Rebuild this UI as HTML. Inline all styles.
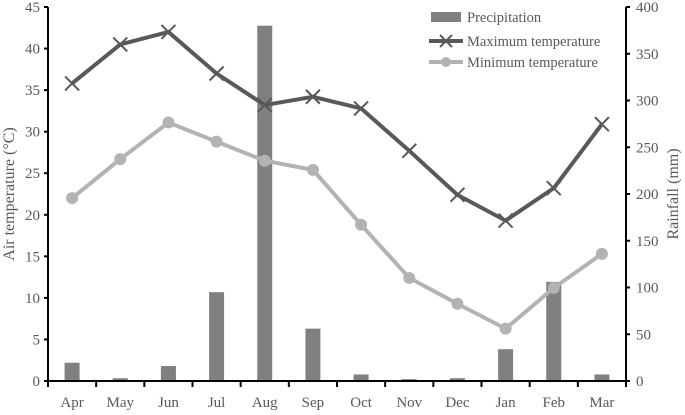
<!DOCTYPE html>
<html><head><meta charset="utf-8"><style>
body{margin:0;background:#fff}
text{font-family:"Liberation Serif",serif;fill:#595959}
</style></head><body>
<svg id="chart" width="685" height="410" xmlns="http://www.w3.org/2000/svg"></svg>
<script>
const months=["Apr","May","Jun","Jul","Aug","Sep","Oct","Nov","Dec","Jan","Feb","Mar"];
const maxTemp=[35.8,40.5,42,37,33.2,34.2,32.8,27.7,22.4,19.3,23.2,30.9];
const minTemp=[22,26.7,31.1,28.8,26.5,25.4,18.8,12.4,9.3,6.3,11.2,15.3];
const rainfall=[19.5,3,16,95,380,56,7,2,3,34,106,7];
const leftTicks=[0,5,10,15,20,25,30,35,40,45];
const rightTicks=[0,50,100,150,200,250,300,350,400];
const svg=document.getElementById('chart');
const NS='http://www.w3.org/2000/svg';
const L=48,R=626,T=7,B=381,bw=(R-L)/12;
const x=i=>L+bw*(i+0.5);
const yL=v=>B-(v/45)*(B-T);
const yR=v=>B-(v/400)*(B-T);
function mk(tag,a,parent){const e=document.createElementNS(NS,tag);for(const k in a)e.setAttribute(k,a[k]);(parent||svg).appendChild(e);return e;}
// bars
const gb=mk('g',{});


rainfall.forEach((v,i)=>{const r=mk('rect',{x:x(i)-7.5,y:yR(v),width:15,height:B-yR(v),fill:'#808080'},gb);

});
// lines
function series(data,color,name,marker){
 const g=mk('g',{});
 
 
 mk('polyline',{points:data.map((v,i)=>x(i)+','+yL(v)).join(' '),fill:'none',stroke:color,'stroke-width':4},g);
 data.forEach((v,i)=>{let m;
  if(marker==='x'){const cx=x(i),cy=yL(v);m=mk('path',{d:`M${cx-7},${cy-7}L${cx+7},${cy+7}M${cx-7},${cy+7}L${cx+7},${cy-7}`,stroke:color,'stroke-width':2},g);}
  else m=mk('circle',{cx:x(i),cy:yL(v),r:6,fill:color},g);
  
  });
}
series(minTemp,'#b3b3b3','min-temperature-line','o');
series(maxTemp,'#595959','max-temperature-line','x');
// axes
const ax=mk('g',{stroke:'#000','stroke-width':2});


mk('line',{x1:L,y1:T,x2:L,y2:B+1},ax);
mk('line',{x1:R,y1:T,x2:R,y2:B+1},ax);
mk('line',{x1:L,y1:B,x2:R,y2:B},ax);
for(let i=0;i<=12;i++)mk('line',{x1:L+bw*i,y1:B,x2:L+bw*i,y2:B+6},ax);
leftTicks.forEach(v=>{mk('line',{x1:L-4,y1:yL(v),x2:L,y2:yL(v)},ax);
 const t=mk('text',{x:L-8,y:yL(v)+5,'text-anchor':'end','font-size':15});t.textContent=v;
 });
rightTicks.forEach(v=>{mk('line',{x1:R,y1:yR(v),x2:R+4,y2:yR(v)},ax);
 const t=mk('text',{x:R+10,y:yR(v)+5,'font-size':15});t.textContent=v;
 });
months.forEach((m,i)=>{const t=mk('text',{x:x(i),y:B+26,'text-anchor':'middle','font-size':15});t.textContent=m;
 });
let t=mk('text',{transform:'translate(14,194) rotate(-90)','text-anchor':'middle','font-size':16});t.textContent='Air temperature (°C)';

t=mk('text',{transform:'translate(678,194) rotate(-90)','text-anchor':'middle','font-size':16});t.textContent='Rainfall (mm)';

// legend
const lg=mk('g',{});


mk('rect',{x:431,y:12,width:30,height:10,fill:'#808080'},lg);
mk('line',{x1:429,y1:41,x2:463,y2:41,stroke:'#595959','stroke-width':4},lg);
mk('path',{d:'M440,35L452,47M440,47L452,35',stroke:'#595959','stroke-width':2},lg);
mk('line',{x1:429,y1:62,x2:463,y2:62,stroke:'#b3b3b3','stroke-width':4},lg);
mk('circle',{cx:446,cy:62,r:5,fill:'#b3b3b3'},lg);
[['Precipitation',22],['Maximum temperature',46],['Minimum temperature',67]].forEach(([s,y])=>{
 const e=mk('text',{x:467,y:y,'font-size':14.5},lg);e.textContent=s;
 });
</script>
</body></html>
